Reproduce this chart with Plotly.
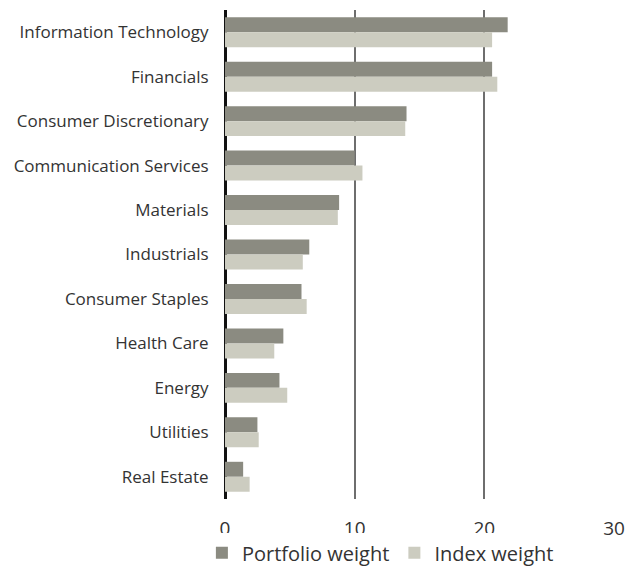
import plotly.graph_objects as go

categories = ["Information Technology", "Financials", "Consumer Discretionary",
              "Communication Services", "Materials", "Industrials",
              "Consumer Staples", "Health Care", "Energy", "Utilities", "Real Estate"]
portfolio_weight = [21.8, 20.6, 14.0, 10.0, 8.8, 6.5, 5.9, 4.5, 4.2, 2.5, 1.4]
index_weight = [20.6, 21.0, 13.9, 10.6, 8.7, 6.0, 6.3, 3.8, 4.8, 2.6, 1.9]
x_ticks = [0, 10, 20, 30]

fig = go.Figure()
fig.add_trace(go.Bar(y=categories, x=portfolio_weight, orientation="h",
                     name="Portfolio weight", marker=dict(color="#8b8b81", line=dict(width=0))))
fig.add_trace(go.Bar(y=categories, x=index_weight, orientation="h",
                     name="Index weight", marker=dict(color="#ccccc0", line=dict(width=0))))

fig.update_layout(
    width=627, height=567,
    margin=dict(l=225, r=13, t=10, b=68, autoexpand=False),
    paper_bgcolor="white", plot_bgcolor="white",
    barmode="group", bargap=0.326, bargroupgap=0,
    font=dict(family="Open Sans", color="#333333"),
    showlegend=True,
    legend=dict(orientation="h", x=0.322, xref="container", xanchor="left",
                y=0.025, yref="container", yanchor="middle",
                font=dict(size=20, color="#333333"), itemwidth=30,
                traceorder="normal"),
)
fig.update_xaxes(range=[0, 30], tickvals=x_ticks, ticktext=[str(t) for t in x_ticks],
                 showgrid=True, gridcolor="#6e6e6e", gridwidth=2,
                 zeroline=True, zerolinecolor="#111111", zerolinewidth=3,
                 ticks="outside", ticklen=12, tickcolor="rgba(0,0,0,0)",
                 automargin=False,
                 tickfont=dict(size=19, color="#333333"), fixedrange=True)
fig.update_yaxes(categoryorder="array", categoryarray=categories, autorange="reversed",
                 showgrid=False, zeroline=False, ticks="outside", ticklen=12,
                 tickcolor="rgba(0,0,0,0)", automargin=False,
                 tickfont=dict(size=17, color="#333333"))

fig.write_html("out.html")
